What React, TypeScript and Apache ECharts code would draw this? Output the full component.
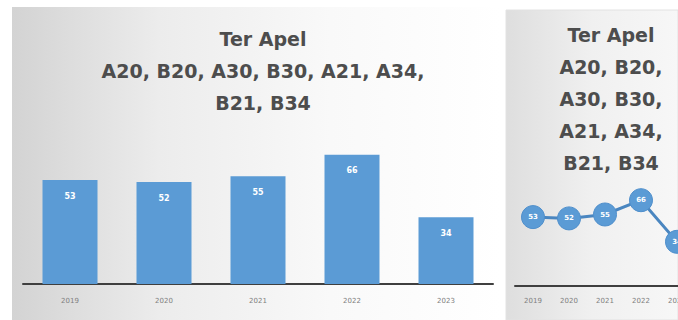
import React, { useEffect, useRef } from "react";
import * as echarts from "echarts";

const years = ["2019", "2020", "2021", "2022", "2023"];
const counts = [53, 52, 55, 66, 34];
const titleText = "Ter Apel\nA20, B20, A30, B30, A21, A34,\nB21, B34";
const titleTextNarrow = "Ter Apel\nA20, B20,\nA30, B30,\nA21, A34,\nB21, B34";

export default function App() {
  const ref = useRef<HTMLDivElement>(null);
  useEffect(() => {
    if (!ref.current) return;
    const chart = echarts.init(ref.current, null, { renderer: "svg" });
    const blue = "#5b9bd5";
    const titleStyle = {
      fontFamily: "DejaVu Sans",
      fontWeight: "bold" as const,
      fontSize: 19,
      lineHeight: 32,
      color: "#4d4d4d",
    };
    chart.setOption({
      animation: false,
      graphic: [
        {
          type: "rect",
          z: -10,
          shape: { x: 12, y: 7, width: 489, height: 313 },
          style: {
            fill: new echarts.graphic.LinearGradient(0, 0, 1, 0, [
              { offset: 0, color: "#d3d3d3" },
              { offset: 0.3, color: "#ececec" },
              { offset: 0.65, color: "#f9f9f9" },
              { offset: 1, color: "#ffffff" },
            ]),
          },
        },
        {
          type: "rect",
          z: -10,
          shape: { x: 506, y: 10, width: 172, height: 310 },
          style: {
            fill: new echarts.graphic.LinearGradient(0, 0, 1, 0, [
              { offset: 0, color: "#dedede" },
              { offset: 0.5, color: "#f0f0f0" },
              { offset: 1, color: "#f7f7f7" },
            ]),
            stroke: "#e2e2e2",
            lineWidth: 1,
          },
        },
      ],
      title: [
        { text: titleText, left: 258, top: 18, textAlign: "center", textStyle: titleStyle },
        { text: titleTextNarrow, left: 606, top: 14, textAlign: "center", textStyle: titleStyle },
      ],
      grid: [
        { left: 23, top: 88, width: 470, height: 196, outerBoundsMode: "none" },
        { left: 515, top: 156, width: 180, height: 130, outerBoundsMode: "none" },
      ],
      xAxis: [
        {
          type: "category",
          data: years,
          gridIndex: 0,
          axisLine: { lineStyle: { color: "#3f3f3f", width: 2 } },
          axisTick: { show: false },
          axisLabel: { color: "#7f7f7f", fontSize: 7, margin: 13, fontFamily: "DejaVu Sans" },
        },
        {
          type: "category",
          data: years,
          gridIndex: 1,
          axisLine: { lineStyle: { color: "#3f3f3f", width: 2 } },
          axisTick: { show: false },
          axisLabel: { color: "#7f7f7f", fontSize: 7, margin: 11, fontFamily: "DejaVu Sans" },
        },
      ],
      yAxis: [
        { type: "value", gridIndex: 0, min: 0, max: 100, show: false },
        { type: "value", gridIndex: 1, min: 0, max: 100, show: false },
      ],
      series: [
        {
          type: "bar",
          xAxisIndex: 0,
          yAxisIndex: 0,
          data: counts,
          barWidth: 55,
          itemStyle: { color: blue },
          label: {
            show: true,
            position: "insideTop",
            distance: 12,
            color: "#ffffff",
            fontSize: 8,
            fontWeight: "bold",
            fontFamily: "DejaVu Sans",
          },
        },
        {
          type: "line",
          xAxisIndex: 1,
          yAxisIndex: 1,
          data: counts,
          symbol: "circle",
          symbolSize: 23,
          lineStyle: { color: "#4a86c0", width: 3 },
          itemStyle: { color: blue, borderColor: "#4f8fcc", borderWidth: 1 },
          label: {
            show: true,
            position: "inside",
            color: "#ffffff",
            fontSize: 7,
            fontWeight: "bold",
            fontFamily: "DejaVu Sans",
          },
        },
      ],
    });
    return () => chart.dispose();
  }, []);
  return (
    <div
      ref={ref}
      style={{ position: "fixed", left: 0, top: 0, width: 678, height: 320, background: "#ffffff" }}
    />
  );
}
